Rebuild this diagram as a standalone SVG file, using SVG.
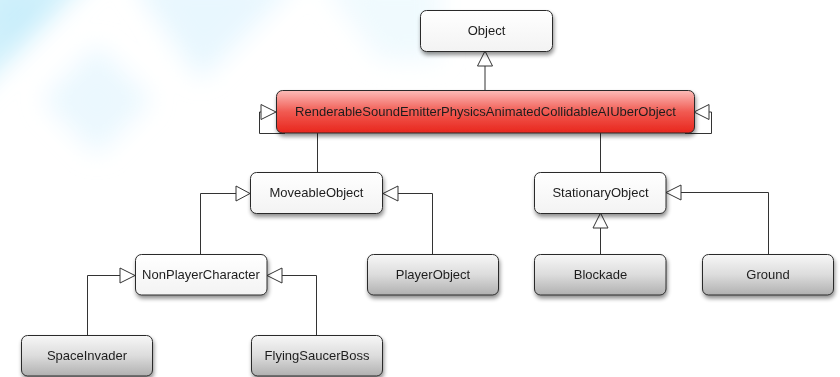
<svg xmlns="http://www.w3.org/2000/svg" width="840" height="377" viewBox="0 0 840 377">
<defs>
<style>
.box{stroke:#2b2b2b;stroke-width:1}
.w{fill:url(#gw)}
.g{fill:url(#gg)}
.r{fill:url(#gr)}
.t{font-family:"Liberation Sans",Arial,sans-serif;font-size:13px;fill:#1e1e1e;text-anchor:middle;dominant-baseline:central}
.c{fill:none;stroke:#333;stroke-width:1}
.ah{fill:#fff;stroke:#333;stroke-width:1}
</style>
<linearGradient id="gw" x1="0" y1="0" x2="0" y2="1"><stop offset="0" stop-color="#ffffff"/><stop offset="1" stop-color="#f3f3f3"/></linearGradient>
<linearGradient id="gg" x1="0" y1="0" x2="0" y2="1"><stop offset="0" stop-color="#f7f7f7"/><stop offset="0.5" stop-color="#dcdcdc"/><stop offset="1" stop-color="#b0b0b0"/></linearGradient>
<linearGradient id="gr" x1="0" y1="0" x2="0" y2="1"><stop offset="0" stop-color="#fcbcb8"/><stop offset="0.5" stop-color="#f15a52"/><stop offset="1" stop-color="#e8261c"/></linearGradient>
<filter id="sh" x="-10%" y="-20%" width="125%" height="160%"><feGaussianBlur in="SourceAlpha" stdDeviation="2"/><feOffset dx="1" dy="3"/><feComponentTransfer><feFuncA type="linear" slope="0.45"/></feComponentTransfer><feMerge><feMergeNode/><feMergeNode in="SourceGraphic"/></feMerge></filter>
<filter id="bl" x="-50%" y="-50%" width="200%" height="200%"><feGaussianBlur stdDeviation="12"/></filter>
</defs>
<rect width="840" height="377" fill="#ffffff"/>
<g id="background" filter="url(#bl)">
<polygon points="-40,-40 110,-40 -40,110" fill="#d2f1fc"/>
<polygon points="0,0 60,0 0,60" fill="#c9eefb"/>
<polygon points="97,45 152,100 97,155 42,100" fill="#ebf8fe"/>
<polygon points="130,-20 300,-20 200,80" fill="#e8f7fe"/>
<polygon points="320,-20 440,-20 440,60 380,60" fill="#f0fafe"/>
</g>
<g id="connectors">
<path class="c" d="M485 66V90"/>
<polygon class="ah" points="485,51 477.5,66 492.5,66"/>
<path class="c" d="M285 133.5H259.5V112H261"/>
<polygon class="ah" points="276,112 261,104.5 261,119.5"/>
<path class="c" d="M685 133.5H711.5V112H709"/>
<polygon class="ah" points="694,112 709,104.5 709,119.5"/>
<path class="c" d="M317.5 133V172"/>
<path class="c" d="M600.5 133V172"/>
<path class="c" d="M200.5 254V193.5H236"/>
<polygon class="ah" points="250,193.5 236,186 236,201"/>
<path class="c" d="M432.5 254V193.5H398"/>
<polygon class="ah" points="383,193.5 398,186 398,201"/>
<path class="c" d="M600.5 254V228"/>
<polygon class="ah" points="600.5,213 593,228 608,228"/>
<path class="c" d="M768.5 254V192.5H681"/>
<polygon class="ah" points="666,192.5 681,185 681,200"/>
<path class="c" d="M87.5 335V275.5H120"/>
<polygon class="ah" points="135,275.5 120,268 120,283"/>
<path class="c" d="M316.5 335V275.5H282"/>
<polygon class="ah" points="267,275.5 282,268 282,283"/>
</g>
<g id="Object" filter="url(#sh)"><rect class="box w" x="420.5" y="10.5" width="132" height="41" rx="6"/><text class="t" x="486.5" y="30.5">Object</text></g>
<g id="UberObject" filter="url(#sh)"><rect class="box r" x="276.5" y="90.5" width="418" height="42.5" rx="6"/><text class="t" x="485.5" y="111.5">RenderableSoundEmitterPhysicsAnimatedCollidableAIUberObject</text></g>
<g id="MoveableObject" filter="url(#sh)"><rect class="box w" x="250.5" y="172.5" width="132" height="41" rx="6"/><text class="t" x="316.5" y="192.5">MoveableObject</text></g>
<g id="StationaryObject" filter="url(#sh)"><rect class="box w" x="534.5" y="172.5" width="131.5" height="41" rx="6"/><text class="t" x="600.5" y="192.5">StationaryObject</text></g>
<g id="NonPlayerCharacter" filter="url(#sh)"><rect class="box w" x="135.5" y="254.5" width="131.5" height="40.5" rx="6"/><text class="t" x="201" y="274.5">NonPlayerCharacter</text></g>
<g id="PlayerObject" filter="url(#sh)"><rect class="box g" x="367.5" y="254.5" width="131" height="40.5" rx="6"/><text class="t" x="433" y="274.5">PlayerObject</text></g>
<g id="Blockade" filter="url(#sh)"><rect class="box g" x="534.5" y="254.5" width="131.5" height="40.5" rx="6"/><text class="t" x="600.5" y="274.5">Blockade</text></g>
<g id="Ground" filter="url(#sh)"><rect class="box g" x="702.5" y="254.5" width="131" height="40.5" rx="6"/><text class="t" x="768" y="274.5">Ground</text></g>
<g id="SpaceInvader" filter="url(#sh)"><rect class="box g" x="21.5" y="335.5" width="131" height="40.5" rx="6"/><text class="t" x="87" y="355.5">SpaceInvader</text></g>
<g id="FlyingSaucerBoss" filter="url(#sh)"><rect class="box g" x="251.5" y="335.5" width="131" height="40.5" rx="6"/><text class="t" x="317" y="355.5">FlyingSaucerBoss</text></g>
</svg>
